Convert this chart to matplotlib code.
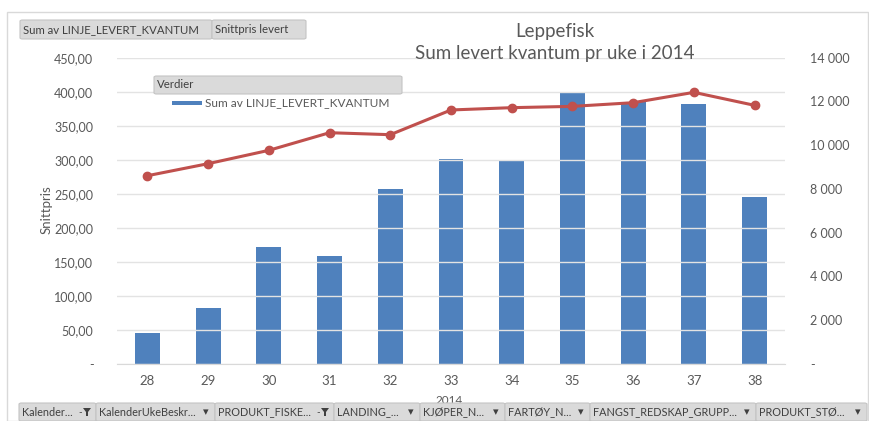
import matplotlib
matplotlib.use("Agg")
import matplotlib.pyplot as plt
from matplotlib.patches import FancyBboxPatch, Rectangle, Polygon
from matplotlib.ticker import FuncFormatter, MultipleLocator

plt.rcParams['font.family'] = ['Lato', 'DejaVu Sans']

# data
uker = ['28', '29', '30', '31', '32', '33', '34', '35', '36', '37', '38']
kvantum = [1430, 2570, 5360, 4940, 8000, 9380, 9310, 12370, 11990, 11870, 7650]
snittpris = [276.6, 294.3, 313.9, 339.8, 336.9, 373.2, 376.6, 378.5, 383.9, 399.1, 380.0]

bar_color = '#4f81bd'
line_color = '#c0504d'
txt = '#595959'

W, H = 870, 421
fig = plt.figure(figsize=(W / 100, H / 100), dpi=100)


def fx(x):
    return x / W


def fy(y):
    return 1 - y / H


# ramme rundt diagrammet
fig.patches.append(Rectangle((fx(7), fy(421)), fx(861), fy(12) - fy(421), transform=fig.transFigure,
                             fill=False, edgecolor='#d9d9d9', lw=1))

ax = fig.add_axes([fx(117), fy(364), fx(668), fy(57.7) - fy(364)])
ax2 = ax.twinx()

x = list(range(len(uker)))
ax2.bar(x, kvantum, width=0.41, color=bar_color, zorder=2)
ax.plot(x, snittpris, color=line_color, lw=2.2, marker='o', ms=6, zorder=3)

ax.set_zorder(ax2.get_zorder() + 1)
ax.patch.set_visible(False)

ax.set_xlim(-0.5, 10.5)
ax.set_ylim(0, 450)
ax2.set_ylim(0, 14000)
ax.yaxis.set_major_locator(MultipleLocator(50))
ax2.yaxis.set_major_locator(MultipleLocator(2000))
ax.yaxis.set_major_formatter(FuncFormatter(lambda v, p: '-' if v == 0 else f'{v:.2f}'.replace('.', ',')))
ax2.yaxis.set_major_formatter(FuncFormatter(lambda v, p: '-' if v == 0 else f'{int(v):,}'.replace(',', ' ')))
ax.set_xticks(x)
ax.set_xticklabels(uker)

ax.grid(axis='y', color='#e3e3e3', lw=1)
ax.set_axisbelow(True)
for a in (ax, ax2):
    for s in a.spines.values():
        s.set_visible(False)
    a.tick_params(length=0, colors=txt, labelsize=9)
ax.spines['bottom'].set_visible(True)
ax.spines['bottom'].set_color('#d9d9d9')
ax.tick_params(axis='y', pad=17)
ax2.tick_params(axis='y', pad=18)
ax.tick_params(axis='x', pad=8, labelsize=9.5)
fig.text(fx(47), fy(210), 'Snittpris', rotation=90, ha='center', va='center', color=txt, fontsize=9.5)

# tittel
fig.text(fx(555), fy(32), 'Leppefisk', ha='center', va='center', color=txt, fontsize=13.5)
fig.text(fx(555), fy(53), 'Sum levert kvantum pr uke i 2014', ha='center', va='center', color=txt, fontsize=13.5)
fig.text(fx(449), fy(401), '2014', ha='center', va='center', color=txt, fontsize=8.5)


def knapp(x0, x1, y0, y1, label, arrow=None, size=7.8):
    fig.patches.append(FancyBboxPatch((fx(x0), fy(y1)), fx(x1 - x0), fy(y0) - fy(y1),
                                      boxstyle='round,pad=0,rounding_size=0.003',
                                      transform=fig.transFigure, facecolor='#dadada',
                                      edgecolor='#c4c4c4', lw=0.8, zorder=5))
    fig.text(fx(x0 + 3), fy((y0 + y1) / 2), label, ha='left', va='center', color='#404040',
             fontsize=size, zorder=6)
    if arrow == 'drop':
        fig.text(fx(x1 - 9), fy((y0 + y1) / 2), '▾', ha='center', va='center', color='#404040',
                 fontsize=8, zorder=6)
    elif arrow == 'filter':
        cx, cy = x1 - 9, (y0 + y1) / 2
        fig.patches.append(Polygon([(fx(cx - 4), fy(cy - 4)), (fx(cx + 4), fy(cy - 4)), (fx(cx + 1), fy(cy)),
                                    (fx(cx + 1), fy(cy + 4)), (fx(cx - 1), fy(cy + 4)), (fx(cx - 1), fy(cy))],
                                   closed=True, transform=fig.transFigure, facecolor='#404040', zorder=6))
        fig.text(fx(cx - 7), fy(cy + 1), '-', ha='center', va='center', color='#404040', fontsize=7, zorder=6)


knapp(20, 212, 20, 39, 'Sum av LINJE_LEVERT_KVANTUM', size=8.2)
knapp(212, 306, 20, 39, 'Snittpris levert', size=8.2)

# Verdier-forklaring
knapp(154, 402, 76, 94, 'Verdier', size=8.2)
fig.patches.append(Rectangle((fx(172), fy(105)), fx(30), fy(101) - fy(105), transform=fig.transFigure,
                             facecolor=bar_color, edgecolor='none', zorder=6))
fig.text(fx(205), fy(103), 'Sum av LINJE_LEVERT_KVANTUM', ha='left', va='center', color=txt, fontsize=8.6, zorder=6)

bunn = [(19, 96, 'Kalender...', 'filter'), (96, 215, 'KalenderUkeBeskr...', 'drop'),
        (215, 334, 'PRODUKT_FISKE...', 'filter'), (334, 420, 'LANDING_...', 'drop'),
        (420, 505, 'KJØPER_N...', 'drop'), (505, 590, 'FARTØY_N...', 'drop'),
        (590, 756, 'FANGST_REDSKAP_GRUPP...', 'drop'), (756, 867, 'PRODUKT_STØ...', 'drop')]
for x0, x1, lab, arr in bunn:
    knapp(x0, x1, 403, 421, lab, arr, size=7.8)

fig.savefig('out.png', dpi=100)
